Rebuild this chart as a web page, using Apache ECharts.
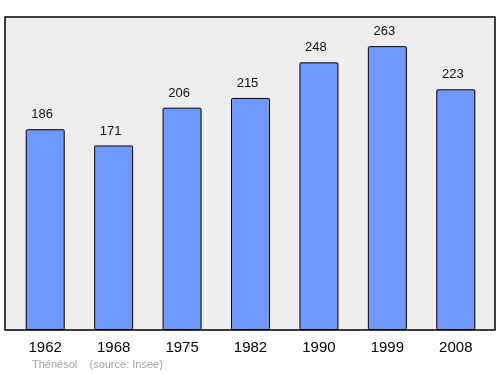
<!DOCTYPE html>
<html><head><meta charset="utf-8">
<script src="https://cdn.jsdelivr.net/npm/echarts@6/dist/echarts.min.js"></script>
<style>html,body{margin:0;padding:0;background:#fff}#c{width:500px;height:374px}</style>
</head><body><div id="c"></div>
<script>
const years = ['1962','1968','1975','1982','1990','1999','2008'];
const population = [186,171,206,215,248,263,223];
const yMax = 290;
const chart = echarts.init(document.getElementById('c'));
chart.setOption({
  animation:false,
  graphic:[
    {type:'rect',shape:{x:5,y:17,width:490,height:313},style:{fill:'#eeeeee',stroke:'#000',lineWidth:1.5},z:-10},
    {type:'text',left:32,top:359,style:{text:'Thénésol    (source: Insee)',fill:'#a0a0a0',font:'11px "Liberation Sans", Arial, sans-serif'}}
  ],
  grid:{left:11,right:10,top:17,bottom:44},
  xAxis:{type:'category',data:years,axisLine:{show:false},axisTick:{show:false},
    axisLabel:{color:'#000',fontSize:15,fontFamily:'"Liberation Sans", Arial, sans-serif',margin:10}},
  yAxis:{type:'value',min:0,max:yMax,show:false,splitLine:{show:false}},
  series:[{type:'bar',data:population,barWidth:'57%',
    itemStyle:{color:'#7099ff',borderColor:'#000',borderWidth:1,borderRadius:1},
    label:{show:true,position:'top',distance:8,offset:[-3,0],color:'#111',fontSize:13,fontFamily:'"Liberation Sans", Arial, sans-serif'}}]
});
</script></body></html>
